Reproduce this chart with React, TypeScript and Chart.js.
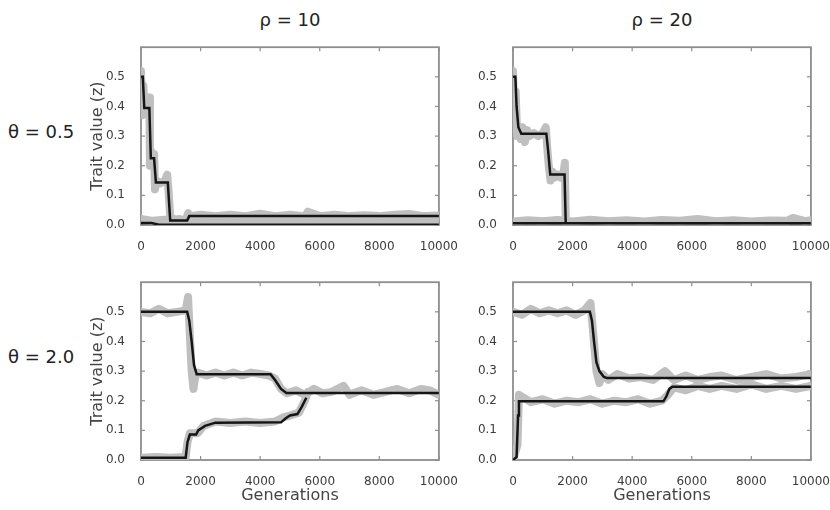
import React, { useEffect, useRef } from "react";
import { Chart, registerables } from "chart.js";
Chart.register(...registerables);

// ---------- labels ----------
const colTitles = ["ρ = 10", "ρ = 20"];
const rowTitles = ["θ = 0.5", "θ = 2.0"];
const yTitleText = "Trait value (z)";
const xTitleText = "Generations";
const xTickValues = [0, 2000, 4000, 6000, 8000, 10000];
const yTickValues = [0, 0.1, 0.2, 0.3, 0.4, 0.5];

// ---------- panel θ=0.5, ρ=10 ----------
const tlMeanAX = [0, 60, 110, 280, 330, 440, 500, 900, 980, 1550, 1620, 10000];
const tlMeanAY = [0.5, 0.5, 0.395, 0.395, 0.225, 0.225, 0.143, 0.143, 0.015, 0.015, 0.03, 0.03];
const tlMeanBX = [0, 350, 600, 10000];
const tlMeanBY = [0.007, 0.007, 0.001, 0.001];
const tlCloudAX = [0, 40, 80, 120, 200, 280, 300, 340, 400, 440, 470, 520, 650, 800, 880, 920, 980, 1100, 1300, 1500, 1580, 1650, 2000, 2500, 3000, 3500, 4000, 4500, 5000, 5500, 5600, 6000, 6500, 7000, 7500, 8000, 8500, 9000, 9500, 10000];
const tlCloudAY = [0.52, 0.37, 0.47, 0.39, 0.42, 0.43, 0.2, 0.25, 0.22, 0.24, 0.12, 0.15, 0.14, 0.15, 0.17, 0.12, 0.03, 0.018, 0.02, 0.015, 0.04, 0.03, 0.035, 0.03, 0.035, 0.03, 0.038, 0.03, 0.035, 0.03, 0.045, 0.03, 0.035, 0.03, 0.033, 0.03, 0.035, 0.037, 0.03, 0.032];
const tlCloudBX = [0, 400, 800, 1200, 1800, 2400, 3000, 3600, 4200, 4800, 5400, 6000, 6600, 7200, 7800, 8400, 9000, 9600, 10000];
const tlCloudBY = [0.02, 0.014, 0.018, 0.012, 0.016, 0.013, 0.017, 0.012, 0.016, 0.014, 0.018, 0.013, 0.016, 0.012, 0.017, 0.014, 0.016, 0.013, 0.015];

// ---------- panel θ=0.5, ρ=20 ----------
const trMeanAX = [0, 80, 120, 180, 280, 1120, 1180, 1250, 1730, 1770];
const trMeanAY = [0.5, 0.5, 0.4, 0.33, 0.308, 0.308, 0.25, 0.17, 0.17, 0.006];
const trMeanBX = [0, 10000];
const trMeanBY = [0.006, 0.006];
const trCloudAX = [0, 40, 90, 140, 200, 260, 320, 400, 480, 560, 700, 850, 1000, 1100, 1150, 1200, 1260, 1330, 1400, 1500, 1600, 1700, 1740, 1770];
const trCloudAY = [0.52, 0.38, 0.45, 0.3, 0.33, 0.29, 0.33, 0.28, 0.32, 0.3, 0.31, 0.3, 0.31, 0.33, 0.26, 0.2, 0.15, 0.18, 0.16, 0.17, 0.16, 0.18, 0.21, 0.01];
const trCloudBX = [0, 500, 1000, 1500, 2000, 2600, 3200, 3800, 4400, 5000, 5600, 6200, 6800, 7400, 8000, 8600, 9200, 9400, 9800, 10000];
const trCloudBY = [0.012, 0.016, 0.013, 0.017, 0.012, 0.018, 0.013, 0.016, 0.012, 0.017, 0.014, 0.02, 0.013, 0.016, 0.012, 0.015, 0.014, 0.024, 0.013, 0.016];

// ---------- panel θ=2.0, ρ=10 ----------
const blMeanAX = [0, 1550, 1620, 1700, 1780, 1870, 4350, 4500, 4700, 4880, 10000];
const blMeanAY = [0.5, 0.5, 0.47, 0.4, 0.32, 0.289, 0.289, 0.27, 0.24, 0.226, 0.226];
const blMeanBX = [0, 1500, 1560, 1640, 1850, 1920, 2150, 2500, 4700, 4850, 5000, 5250, 5400, 5550];
const blMeanBY = [0.008, 0.008, 0.06, 0.086, 0.086, 0.1, 0.115, 0.126, 0.127, 0.14, 0.15, 0.155, 0.18, 0.21];
const blCloudAX = [0, 300, 600, 900, 1200, 1500, 1580, 1640, 1700, 1760, 1820, 1900, 2200, 2500, 2800, 3100, 3400, 3700, 4000, 4300, 4500, 4700, 4900, 5200, 5500, 5800, 6100, 6400, 6800, 7000, 7400, 7800, 8200, 8600, 9000, 9400, 9700, 10000];
const blCloudAY = [0.5, 0.495, 0.51, 0.495, 0.5, 0.505, 0.55, 0.42, 0.3, 0.24, 0.28, 0.295, 0.285, 0.295, 0.285, 0.295, 0.285, 0.295, 0.29, 0.285, 0.275, 0.24, 0.225, 0.235, 0.22, 0.24, 0.225, 0.23, 0.25, 0.22, 0.235, 0.22, 0.23, 0.24, 0.225, 0.24, 0.235, 0.22];
const blCloudBX = [0, 500, 1000, 1500, 1560, 1640, 1900, 2100, 2500, 3000, 3500, 4000, 4500, 4800, 5000, 5300, 5500, 5600];
const blCloudBY = [0.008, 0.01, 0.008, 0.01, 0.06, 0.09, 0.09, 0.115, 0.13, 0.125, 0.13, 0.125, 0.13, 0.145, 0.15, 0.16, 0.2, 0.23];

// ---------- panel θ=2.0, ρ=20 ----------
const brMeanAX = [0, 2580, 2650, 2720, 2800, 2900, 3050, 3150, 10000];
const brMeanAY = [0.5, 0.5, 0.47, 0.4, 0.33, 0.3, 0.28, 0.277, 0.277];
const brMeanBX = [0, 120, 170, 200, 5050, 5150, 5250, 5350, 10000];
const brMeanBY = [0.0, 0.01, 0.15, 0.198, 0.198, 0.215, 0.24, 0.247, 0.247];
const brCloudAX = [0, 300, 600, 900, 1200, 1500, 1800, 2100, 2400, 2600, 2700, 2800, 2900, 3000, 3200, 3500, 3900, 4300, 4700, 5100, 5400, 5800, 6200, 6600, 7000, 7500, 8000, 8500, 9000, 9500, 10000];
const brCloudAY = [0.5, 0.49, 0.51, 0.495, 0.505, 0.495, 0.505, 0.49, 0.505, 0.53, 0.42, 0.3, 0.26, 0.29, 0.27, 0.29, 0.275, 0.28, 0.27, 0.3, 0.27, 0.285, 0.27, 0.28, 0.285, 0.27, 0.28, 0.29, 0.275, 0.28, 0.29];
const brCloudBX = [0, 150, 200, 600, 1000, 1400, 1800, 2200, 2600, 3000, 3400, 3800, 4200, 4600, 5000, 5200, 5400, 5800, 6200, 6600, 7000, 7500, 8000, 8500, 9000, 9500, 10000];
const brCloudBY = [0.0, 0.05, 0.22, 0.195, 0.205, 0.19, 0.2, 0.195, 0.205, 0.19, 0.2, 0.195, 0.205, 0.19, 0.2, 0.22, 0.245, 0.235, 0.25, 0.24, 0.25, 0.24, 0.255, 0.24, 0.25, 0.24, 0.25];

const pts = (xs: number[], ys: number[]) => xs.map((x, i) => ({ x, y: ys[i] }));

const cloud = (xs: number[], ys: number[]) => ({
  data: pts(xs, ys),
  borderColor: "#bfbfbf",
  borderWidth: 8,
  borderJoinStyle: "round" as const,
  borderCapStyle: "round" as const,
  pointRadius: 0,
  tension: 0,
  order: 2,
});
const mean = (xs: number[], ys: number[]) => ({
  data: pts(xs, ys),
  borderColor: "#151515",
  borderWidth: 2.5,
  pointRadius: 0,
  tension: 0,
  order: 1,
});

const framePlugin = {
  id: "frame",
  beforeDatasetsDraw(chart: any) {
    const { ctx, chartArea: a, scales } = chart;
    ctx.save();
    ctx.strokeStyle = "#8e8e8e";
    ctx.lineWidth = 1.8;
    ctx.strokeRect(a.left, a.top, a.right - a.left, a.bottom - a.top);
    ctx.lineWidth = 1.2;
    const L = 4;
    const ln = (x1: number, y1: number, x2: number, y2: number) => {
      ctx.beginPath();
      ctx.moveTo(x1, y1);
      ctx.lineTo(x2, y2);
      ctx.stroke();
    };
    scales.x.ticks.forEach((t: any) => {
      const p = scales.x.getPixelForValue(t.value);
      ln(p, a.bottom, p, a.bottom - L);
      ln(p, a.top, p, a.top + L);
    });
    scales.y.ticks.forEach((t: any) => {
      const p = scales.y.getPixelForValue(t.value);
      ln(a.left, p, a.left + L, p);
      ln(a.right, p, a.right - L, p);
    });
    ctx.restore();
  },
};

type PanelCfg = {
  left: number;
  top: number;
  xAxisH: number;
  yTitle: boolean;
  xTitle: boolean;
  datasets: any[];
};

const Y_AXIS_W = 55;
const PLOT_W = 299;
const PLOT_H = 183;
const PAD_TOP = 10;
const PAD_RIGHT = 25;

function Panel({ cfg }: { cfg: PanelCfg }) {
  const ref = useRef<HTMLCanvasElement | null>(null);
  useEffect(() => {
    if (!ref.current) return;
    const chart = new Chart(ref.current, {
      type: "line",
      data: { datasets: cfg.datasets },
      options: {
        animation: false,
        responsive: false,
        devicePixelRatio: 1,
        layout: { padding: { top: PAD_TOP, right: PAD_RIGHT, left: 0, bottom: 0 } },
        plugins: { legend: { display: false }, tooltip: { enabled: false } },
        scales: {
          x: {
            type: "linear",
            min: 0,
            max: 10000,
            afterFit: (s: any) => {
              s.height = cfg.xAxisH;
            },
            afterBuildTicks: (s: any) => {
              s.ticks = xTickValues.map((v) => ({ value: v }));
            },
            grid: { display: false },
            border: { display: false },
            ticks: {
              padding: 7,
              color: "#3c3c3c",
              font: { family: "DejaVu Sans", size: 12 },
              maxRotation: 0,
              autoSkip: false,
              callback: (v: any) => String(v),
            },
            title: {
              display: cfg.xTitle,
              text: xTitleText,
              color: "#444",
              font: { family: "DejaVu Sans", size: 16 },
              padding: { top: 0, bottom: 2 },
            },
          },
          y: {
            type: "linear",
            min: 0,
            max: 0.6,
            afterFit: (s: any) => {
              s.width = Y_AXIS_W;
            },
            afterBuildTicks: (s: any) => {
              s.ticks = yTickValues.map((v) => ({ value: v }));
            },
            grid: { display: false },
            border: { display: false },
            ticks: {
              padding: 8,
              color: "#3c3c3c",
              font: { family: "DejaVu Sans", size: 12 },
              autoSkip: false,
              callback: (v: any) => Number(v).toFixed(1),
            },
            title: {
              display: cfg.yTitle,
              text: yTitleText,
              color: "#444",
              font: { family: "DejaVu Sans", size: 16 },
              padding: { top: 2, bottom: 0 },
            },
          },
        },
      },
      plugins: [framePlugin],
    } as any);
    return () => chart.destroy();
  }, []);
  const w = Y_AXIS_W + PLOT_W + PAD_RIGHT;
  const h = PAD_TOP + PLOT_H + cfg.xAxisH;
  return (
    <canvas
      ref={ref}
      width={w}
      height={h}
      style={{ position: "absolute", left: cfg.left, top: cfg.top, width: w, height: h }}
    />
  );
}

const panels: PanelCfg[] = [
  {
    left: 141 - Y_AXIS_W,
    top: 42 - PAD_TOP,
    xAxisH: 26,
    yTitle: true,
    xTitle: false,
    datasets: [cloud(tlCloudAX, tlCloudAY), cloud(tlCloudBX, tlCloudBY), mean(tlMeanAX, tlMeanAY), mean(tlMeanBX, tlMeanBY)],
  },
  {
    left: 513 - Y_AXIS_W,
    top: 42 - PAD_TOP,
    xAxisH: 26,
    yTitle: false,
    xTitle: false,
    datasets: [cloud(trCloudAX, trCloudAY), cloud(trCloudBX, trCloudBY), mean(trMeanAX, trMeanAY), mean(trMeanBX, trMeanBY)],
  },
  {
    left: 141 - Y_AXIS_W,
    top: 277 - PAD_TOP,
    xAxisH: 47,
    yTitle: true,
    xTitle: true,
    datasets: [cloud(blCloudAX, blCloudAY), cloud(blCloudBX, blCloudBY), mean(blMeanAX, blMeanAY), mean(blMeanBX, blMeanBY)],
  },
  {
    left: 513 - Y_AXIS_W,
    top: 277 - PAD_TOP,
    xAxisH: 47,
    yTitle: false,
    xTitle: true,
    datasets: [cloud(brCloudAX, brCloudAY), cloud(brCloudBX, brCloudBY), mean(brMeanAX, brMeanAY), mean(brMeanBX, brMeanBY)],
  },
];

const headStyle: React.CSSProperties = {
  position: "absolute",
  fontFamily: "DejaVu Sans",
  fontSize: 18,
  color: "#222",
  whiteSpace: "nowrap",
  lineHeight: "22px",
};

export default function App() {
  return (
    <div
      style={{
        position: "absolute",
        left: 0,
        top: 0,
        width: 830,
        height: 510,
        background: "#fff",
        overflow: "hidden",
      }}
    >
      <div style={{ ...headStyle, left: 290, top: 20, transform: "translate(-50%, -50%)" }}>{colTitles[0]}</div>
      <div style={{ ...headStyle, left: 662, top: 20, transform: "translate(-50%, -50%)" }}>{colTitles[1]}</div>
      <div style={{ ...headStyle, left: 8, top: 132, transform: "translate(0, -50%)" }}>{rowTitles[0]}</div>
      <div style={{ ...headStyle, left: 8, top: 357, transform: "translate(0, -50%)" }}>{rowTitles[1]}</div>
      {panels.map((p, i) => (
        <Panel key={i} cfg={p} />
      ))}
    </div>
  );
}
